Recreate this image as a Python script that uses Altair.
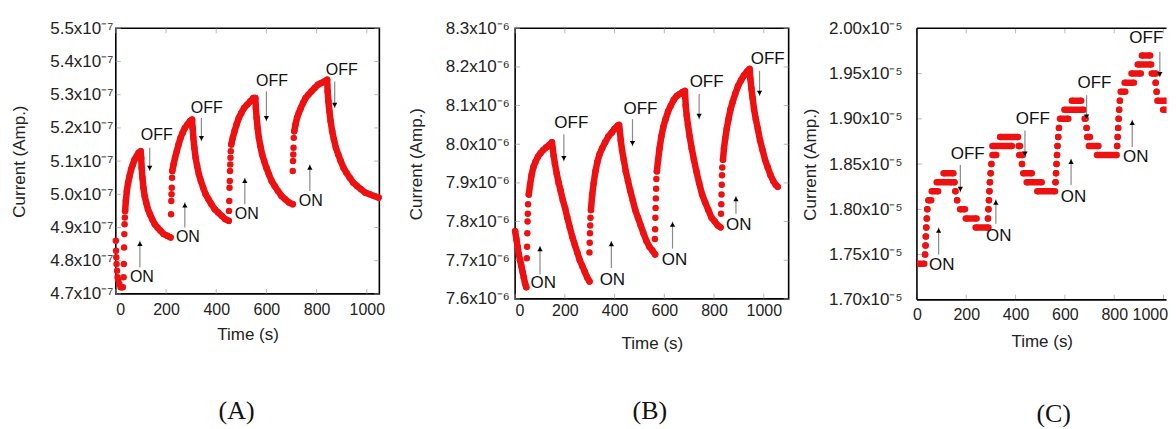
import altair as alt
import pandas as pd

RED = "#ee1111"
FONT = "Liberation Sans"
TICK = "#9a9a9a"

# ================= Panel A : current in units of 1e-7 A =================
A_dot_t = [0, 1, 2, 3, 5, 7, 10, 14, 19, 24, 28, 31, 32, 33, 34, 35, 36,
           220, 221, 222, 223, 224,
           451, 452, 453, 454, 455, 456, 457, 458,
           705, 706, 707, 708, 709]
A_dot_v = [4.86, 4.83, 4.81, 4.79, 4.77, 4.75, 4.74, 4.73, 4.72, 4.72, 4.72, 4.75, 4.79, 4.84, 4.88, 4.91, 4.93,
           4.94, 4.98, 5.00, 5.02, 5.05,
           4.95, 4.98, 5.02, 5.04, 5.07, 5.09, 5.11, 5.13,
           5.07, 5.10, 5.12, 5.14, 5.17]
A_c1_t = [37, 40, 44, 49, 55, 61, 68, 75, 83, 91, 99, 101, 103, 106, 110, 115, 121, 128, 136, 145, 155, 166, 178, 191, 205, 218]
A_c1_v = [4.95, 4.98, 5.01, 5.035, 5.055, 5.075, 5.09, 5.105, 5.115, 5.125, 5.13, 5.11, 5.08, 5.05, 5.02, 4.995, 4.975, 4.955,
          4.94, 4.925, 4.91, 4.90, 4.89, 4.88, 4.875, 4.87]
A_c2_t = [225, 230, 236, 243, 250, 258, 266, 275, 285, 295, 304, 306, 309, 313, 318, 324, 331, 339, 348, 358, 369, 381, 394,
          408, 422, 436, 450]
A_c2_v = [5.07, 5.09, 5.11, 5.13, 5.15, 5.17, 5.185, 5.20, 5.21, 5.22, 5.225, 5.20, 5.17, 5.14, 5.11, 5.085, 5.06, 5.04,
          5.02, 5.00, 4.985, 4.97, 4.955, 4.945, 4.935, 4.925, 4.92]
A_c3_t = [460, 466, 473, 481, 490, 500, 511, 523, 536, 548, 556, 558, 561, 565, 570, 576, 583, 591, 600, 610, 621, 633, 646,
          660, 675, 690, 705]
A_c3_v = [5.15, 5.17, 5.19, 5.21, 5.23, 5.245, 5.26, 5.27, 5.28, 5.29, 5.29, 5.26, 5.23, 5.20, 5.17, 5.145, 5.12, 5.10,
          5.08, 5.06, 5.04, 5.025, 5.01, 4.995, 4.985, 4.975, 4.97]
A_c4_t = [711, 716, 722, 729, 737, 746, 756, 767, 779, 792, 805, 818, 831, 842, 844, 847, 851, 856, 862, 869, 877, 886, 896,
          907, 919, 932, 946, 961, 977, 994, 1011, 1029, 1047]
A_c4_v = [5.19, 5.21, 5.23, 5.245, 5.26, 5.275, 5.29, 5.30, 5.31, 5.32, 5.33, 5.335, 5.34, 5.345, 5.31, 5.28, 5.25, 5.22,
          5.19, 5.165, 5.14, 5.12, 5.10, 5.08, 5.065, 5.05, 5.035, 5.025, 5.015, 5.005, 5.00, 4.995, 4.99]

A_lab_text = ["ON", "OFF", "ON", "OFF", "ON", "OFF", "ON", "OFF"]
A_lab_t = [104, 163, 287, 362, 522, 622, 777, 900]
A_lab_v = [4.75, 5.18, 4.87, 5.26, 4.94, 5.34, 4.98, 5.375]
A_arr_t = [96, 135, 275, 341, 514, 600, 773, 872]
A_arr_base = [4.78, 5.14, 4.90, 5.23, 4.97, 5.31, 5.01, 5.34]
A_arr_tip = [4.86, 5.07, 4.976, 5.16, 5.05, 5.22, 5.09, 5.26]
A_yticks = [4.7, 4.8, 4.9, 5.0, 5.1, 5.2, 5.3, 5.4, 5.5]

# ================= Panel B : current in units of 1e-6 A =================
B_dot_t = [47, 48, 49, 50, 51, 52, 299, 300, 301, 302, 303, 562, 563, 564, 565, 566, 567, 568,
           828, 829, 830, 831, 832, 833]
B_dot_v = [7.705, 7.735, 7.77, 7.80, 7.82, 7.845, 7.72, 7.745, 7.77, 7.79, 7.81, 7.755, 7.78, 7.81, 7.835, 7.86, 7.885, 7.91,
           7.82, 7.845, 7.87, 7.895, 7.92, 7.94]
B_c0_t = [0, 5, 10, 15, 20, 25, 30, 35, 40, 45]
B_c0_v = [7.775, 7.755, 7.735, 7.715, 7.70, 7.685, 7.67, 7.655, 7.64, 7.63]
B_c1_t = [55, 60, 66, 73, 82, 92, 102, 113, 125, 137, 148, 151, 155, 160, 167, 175, 183, 192, 201, 210, 220, 230, 240, 250,
          260, 270, 280, 290, 299]
B_c1_v = [7.87, 7.895, 7.92, 7.94, 7.955, 7.968, 7.977, 7.985, 7.992, 7.998, 8.005, 7.99, 7.97, 7.95, 7.925, 7.90, 7.88,
          7.855, 7.835, 7.81, 7.785, 7.76, 7.74, 7.72, 7.70, 7.685, 7.67, 7.655, 7.645]
B_c2_t = [305, 310, 316, 323, 331, 340, 350, 362, 375, 388, 400, 412, 418, 421, 425, 430, 437, 445, 454, 463, 473, 483, 494,
          505, 516, 528, 540, 552, 563]
B_c2_v = [7.83, 7.87, 7.90, 7.93, 7.955, 7.975, 7.99, 8.005, 8.02, 8.03, 8.04, 8.048, 8.05, 8.035, 8.01, 7.985, 7.96, 7.93,
          7.905, 7.88, 7.855, 7.83, 7.81, 7.79, 7.77, 7.75, 7.735, 7.725, 7.715]
B_c3_t = [570, 575, 581, 588, 596, 605, 615, 626, 638, 650, 662, 674, 683, 686, 690, 695, 702, 710, 719, 729, 740, 752, 764,
          777, 790, 803, 815, 826]
B_c3_v = [7.93, 7.96, 7.99, 8.02, 8.045, 8.065, 8.085, 8.10, 8.115, 8.125, 8.13, 8.135, 8.138, 8.10, 8.075, 8.05, 8.02,
          7.99, 7.96, 7.93, 7.90, 7.87, 7.85, 7.83, 7.81, 7.80, 7.79, 7.785]
B_c4_t = [836, 840, 845, 851, 858, 866, 875, 885, 896, 908, 920, 932, 943, 946, 950, 955, 961, 968, 976, 985, 995, 1005,
          1016, 1027, 1038, 1048, 1056]
B_c4_v = [7.96, 7.99, 8.015, 8.04, 8.065, 8.09, 8.11, 8.13, 8.15, 8.165, 8.178, 8.188, 8.195, 8.17, 8.145, 8.12, 8.09,
          8.065, 8.04, 8.01, 7.985, 7.96, 7.94, 7.92, 7.905, 7.895, 7.89]

B_lab_t = [113, 226, 391, 504, 641, 770, 899, 1016]
B_lab_v = [7.64, 8.055, 7.65, 8.09, 7.70, 8.16, 7.79, 8.22]
B_arr_t = [100, 196, 387, 472, 633, 740, 888, 983]
B_arr_base = [7.664, 8.026, 7.68, 8.065, 7.73, 8.13, 7.82, 8.19]
B_arr_tip = [7.737, 7.956, 7.75, 7.995, 7.80, 8.065, 7.866, 8.125]
B_yticks = [7.6, 7.7, 7.8, 7.9, 8.0, 8.1, 8.2, 8.3]

# ================= Panel C : current in units of 1e-5 A (quantised readings) =================
C_lvl = [1.74, 1.75, 1.76, 1.77, 1.78, 1.79, 1.80, 1.81, 1.82, 1.83, 1.84, 1.83, 1.82, 1.81, 1.80, 1.79, 1.78,
         1.79, 1.80, 1.81, 1.82, 1.83, 1.84, 1.85, 1.86, 1.87, 1.88, 1.87, 1.86, 1.85, 1.84, 1.83, 1.82,
         1.83, 1.84, 1.85, 1.86, 1.87, 1.88, 1.89, 1.90, 1.91, 1.92, 1.90, 1.89, 1.88, 1.87, 1.86,
         1.87, 1.88, 1.89, 1.90, 1.91, 1.92, 1.93, 1.94, 1.95, 1.96, 1.97, 1.95, 1.94, 1.93, 1.92, 1.91]
C_t0 = [0, 33, 35, 36, 38, 40, 42, 46, 60, 80, 108, 152, 156, 163, 175, 198, 238,
        288, 290, 292, 294, 296, 299, 302, 306, 306, 337, 412, 414, 426, 431, 445, 488,
        562, 564, 566, 568, 570, 573, 576, 580, 598, 628, 680, 688, 690, 697, 730,
        812, 814, 816, 818, 820, 823, 826, 842, 870, 895, 912, 952, 968, 972, 975, 998]
C_t1 = [30, 33, 35, 36, 38, 40, 42, 58, 86, 142, 148, 152, 156, 163, 195, 242, 290,
        288, 290, 292, 294, 296, 299, 302, 322, 385, 410, 418, 430, 426, 466, 506, 560,
        562, 564, 566, 568, 570, 573, 576, 614, 676, 666, 684, 688, 702, 736, 810,
        812, 814, 816, 818, 820, 823, 845, 880, 908, 950, 946, 970, 968, 972, 1012, 1075]

C_lab_t = [101, 206, 332, 470, 635, 720, 887, 930]
C_lab_v = [1.739, 1.861, 1.77, 1.90, 1.814, 1.94, 1.858, 1.989]
C_arr_t = [88, 176, 320, 438, 625, 688, 873, 985]
C_arr_base = [1.75, 1.849, 1.784, 1.887, 1.827, 1.926, 1.869, 1.974]
C_arr_tip = [1.78, 1.819, 1.811, 1.858, 1.856, 1.899, 1.899, 1.946]
C_yticks = [1.70, 1.75, 1.80, 1.85, 1.90, 1.95, 2.00]

X_TICKS = [0, 200, 400, 600, 800, 1000]
SUP7 = "x10\u207b\u2077"
SUP6 = "x10\u207b\u2076"
SUP5 = "x10\u207b\u2075"


def curves_df(pairs):
    rows = []
    for k, (ts, vs) in enumerate(pairs):
        assert len(ts) == len(vs)
        for t, v in zip(ts, vs):
            rows.append({"t": t, "v": v, "seg": k})
    return pd.DataFrame(rows)


def ann_df(texts, lt, lv, at, ab, atip):
    return pd.DataFrame({"txt": texts, "lt": lt, "lv": lv, "at": at, "ab": ab, "atip": atip})


def panel(W, H, xdom, ydom, yticks, lab_expr, ylab_pad, ytitle_x, xlab_pad, xtitle_y,
          ann, caption, cap_x, cap_y, curves=None, dots=None, runs=None, open_right=False,
          ann_size=16.5):
    xs = alt.Scale(domain=xdom, nice=False, zero=False)
    ys = alt.Scale(domain=ydom, nice=False, zero=False)
    xa_kw = dict(values=X_TICKS, format="d", labelFontSize=16, labelPadding=xlab_pad, title="Time (s)",
                 titleFontSize=17, titleY=xtitle_y, titleBaseline="middle")
    if open_right:
        xa_kw["labelAlign"] = {"condition": {"test": "datum.value === 1000", "value": "right"}, "value": "center"}
        xa_kw["labelOffset"] = {"condition": {"test": "datum.value === 1000", "value": 4}, "value": 0}
    xa = alt.Axis(**xa_kw)
    ya = alt.Axis(values=yticks, labelExpr=lab_expr, labelFontSize=17, labelPadding=ylab_pad,
                  title="Current (Amp.)", titleFontSize=17, titleX=ytitle_x, titleBaseline="middle")

    def X(f):
        return alt.X(f, scale=xs, axis=xa)

    def Y(f):
        return alt.Y(f, scale=ys, axis=ya)

    clip = open_right
    layers = []
    # inner tick marks of the frame
    txd = pd.DataFrame({"t": X_TICKS})
    tyd = pd.DataFrame({"v": yticks})
    layers.append(alt.Chart(txd).mark_tick(orient="vertical", size=5, thickness=1, color=TICK).encode(
        x=X("t:Q"), y=alt.value(H - 2.5)))
    layers.append(alt.Chart(tyd).mark_tick(orient="horizontal", size=5, thickness=1, color=TICK).encode(
        y=Y("v:Q"), x=alt.value(2.5)))
    layers.append(alt.Chart(txd).mark_tick(orient="vertical", size=5, thickness=1, color=TICK).encode(
        x=X("t:Q"), y=alt.value(2.5)))
    if not open_right:
        layers.append(alt.Chart(tyd).mark_tick(orient="horizontal", size=5, thickness=1, color=TICK).encode(
            y=Y("v:Q"), x=alt.value(W - 2.5)))
    else:
        one = pd.DataFrame({"k": [0]})
        fr = alt.Chart(one).mark_rule(color="black", strokeWidth=1.6)
        layers.append(fr.encode(x=alt.value(0), x2=alt.value(W), y=alt.value(0)))
        layers.append(fr.encode(x=alt.value(0), x2=alt.value(W), y=alt.value(H)))
        layers.append(fr.encode(x=alt.value(0), y=alt.value(0), y2=alt.value(H)))

    # data
    if curves is not None:
        layers.append(alt.Chart(curves).mark_line(color=RED, strokeWidth=6.5, strokeCap="round",
                                                  strokeJoin="round", clip=clip).encode(
            x=X("t:Q"), y=Y("v:Q"), detail="seg:N", order="t:Q"))
        layers.append(alt.Chart(curves).mark_circle(color=RED, size=42, opacity=1, clip=clip).encode(
            x=X("t:Q"), y=Y("v:Q")))
    if dots is not None:
        layers.append(alt.Chart(dots).mark_circle(color=RED, size=42, opacity=1, clip=clip).encode(
            x=X("t:Q"), y=Y("v:Q")))
    if runs is not None:
        layers.append(alt.Chart(runs).mark_rule(color=RED, strokeWidth=6.5, clip=clip).encode(
            x=X("t0:Q"), x2="t1:Q", y=Y("v:Q")))
        layers.append(alt.Chart(runs).mark_circle(color=RED, size=42, opacity=1, clip=clip).encode(
            x=X("t0:Q"), y=Y("v:Q")))
        layers.append(alt.Chart(runs).mark_circle(color=RED, size=42, opacity=1, clip=clip).encode(
            x=X("t1:Q"), y=Y("v:Q")))

    # arrows
    layers.append(alt.Chart(ann).mark_rule(color="#8a8a8a", strokeWidth=1.2).encode(
        x=X("at:Q"), y=Y("ab:Q"), y2="atip:Q"))
    layers.append(alt.Chart(ann).transform_filter(alt.datum.txt == "ON").mark_point(
        shape="triangle-up", filled=True, color="black", size=28, opacity=1, yOffset=3).encode(
        x=X("at:Q"), y=Y("atip:Q")))
    layers.append(alt.Chart(ann).transform_filter(alt.datum.txt == "OFF").mark_point(
        shape="triangle-down", filled=True, color="black", size=28, opacity=1, yOffset=-3).encode(
        x=X("at:Q"), y=Y("atip:Q")))
    layers.append(alt.Chart(ann).mark_text(font=FONT, fontSize=ann_size, color="#111",
                                           baseline="middle", align="center").encode(
        x=X("lt:Q"), y=Y("lv:Q"), text="txt:N"))

    # panel caption
    layers.append(alt.Chart(pd.DataFrame({"c": [caption]})).mark_text(
        font="Liberation Serif", fontSize=26, color="#111", baseline="middle", align="center").encode(
        text="c:N", x=alt.value(cap_x), y=alt.value(cap_y)))

    ch = alt.layer(*layers).properties(width=W, height=H)
    if open_right:
        ch = ch.properties(view=alt.ViewBackground(strokeOpacity=0))
    return ch


A_curves = curves_df([(A_c1_t, A_c1_v), (A_c2_t, A_c2_v), (A_c3_t, A_c3_v), (A_c4_t, A_c4_v)])
A_dots = pd.DataFrame({"t": A_dot_t, "v": A_dot_v})
B_curves = curves_df([(B_c0_t, B_c0_v), (B_c1_t, B_c1_v), (B_c2_t, B_c2_v), (B_c3_t, B_c3_v), (B_c4_t, B_c4_v)])
B_dots = pd.DataFrame({"t": B_dot_t, "v": B_dot_v})
assert len(C_lvl) == len(C_t0) == len(C_t1)
C_runs = pd.DataFrame({"v": C_lvl, "t0": C_t0, "t1": C_t1})

pA = panel(264, 266, [0, 1050], [4.7, 5.5], A_yticks, "format(datum.value, '.1f') + '" + SUP7 + "'",
           3, -96.5, 8, 41,
           ann_df(A_lab_text, A_lab_t, A_lab_v, A_arr_t, A_arr_base, A_arr_tip),
           "(A)", 121, 383, curves=A_curves, dots=A_dots, ann_size=16)
pB = panel(274, 271, [0, 1100], [7.6, 8.3], B_yticks, "format(datum.value, '.1f') + '" + SUP6 + "'",
           6, -99, 4, 45,
           ann_df(A_lab_text, B_lab_t, B_lab_v, B_arr_t, B_arr_base, B_arr_tip),
           "(B)", 135, 383, curves=B_curves, dots=B_dots, ann_size=17)
pC = panel(250, 272, [0, 1012], [1.70, 2.00], C_yticks, "format(datum.value, '.2f') + '" + SUP5 + "'",
           15, -107, 7, 42,
           ann_df(A_lab_text, C_lab_t, C_lab_v, C_arr_t, C_arr_base, C_arr_tip),
           "(C)", 137, 386, runs=C_runs, open_right=True, ann_size=17)

chart = alt.hconcat(alt.hconcat(pA, pB, spacing=20), pC, spacing=10.5).properties(
    padding={"left": 1, "top": 10, "right": 0, "bottom": 0}
).configure(font=FONT).configure_view(stroke="black", strokeWidth=1.6).configure_axis(
    labelFont=FONT, titleFont=FONT, labelColor="#222", titleColor="#222", titleFontWeight="normal",
    grid=False, ticks=False, domain=False
)

chart.save("out.html", embed_options={"renderer": "svg", "actions": False})
